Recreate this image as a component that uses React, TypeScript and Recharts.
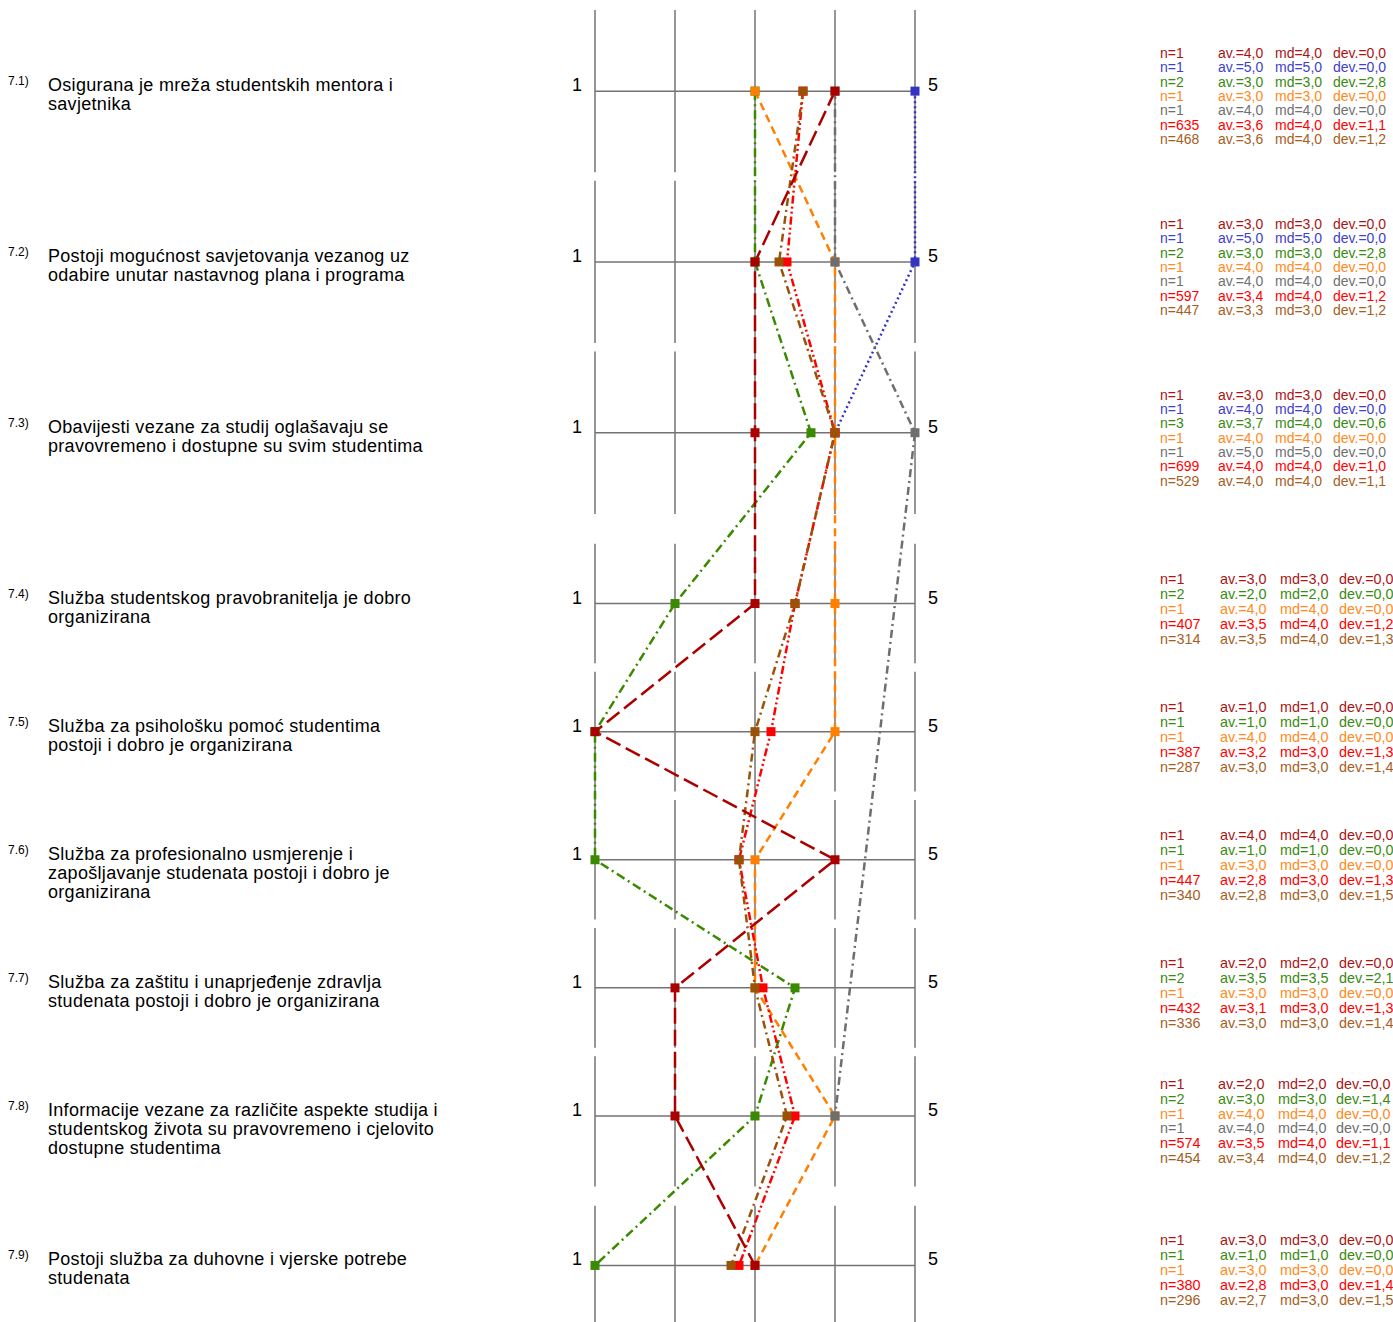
import React from "react";
import { LineChart, Line, XAxis, YAxis, ReferenceLine } from "recharts";

const questionNums = ["7.1)", "7.2)", "7.3)", "7.4)", "7.5)", "7.6)", "7.7)", "7.8)", "7.9)"];
const questions = [
  ["Osigurana je mreža studentskih mentora i", "savjetnika"],
  ["Postoji mogućnost savjetovanja vezanog uz", "odabire unutar nastavnog plana i programa"],
  ["Obavijesti vezane za studij oglašavaju se", "pravovremeno i dostupne su svim studentima"],
  ["Služba studentskog pravobranitelja je dobro", "organizirana"],
  ["Služba za psihološku pomoć studentima", "postoji i dobro je organizirana"],
  ["Služba za profesionalno usmjerenje i", "zapošljavanje studenata postoji i dobro je", "organizirana"],
  ["Služba za zaštitu i unaprjeđenje zdravlja", "studenata postoji i dobro je organizirana"],
  ["Informacije vezane za različite aspekte studija i", "studentskog života su pravovremeno i cjelovito", "dostupne studentima"],
  ["Postoji služba za duhovne i vjerske potrebe", "studenata"],
];

// n per group
const nDarkRed = [1, 1, 1, 1, 1, 1, 1, 1, 1];
const nBlue = [1, 1, 1, null, null, null, null, null, null];
const nGreen = [2, 2, 3, 2, 1, 1, 2, 2, 1];
const nOrange = [1, 1, 1, 1, 1, 1, 1, 1, 1];
const nGray = [1, 1, 1, null, null, null, null, 1, null];
const nRed = [635, 597, 699, 407, 387, 447, 432, 574, 380];
const nBrown = [468, 447, 529, 314, 287, 340, 336, 454, 296];

// averages (plotted)
const avDarkRed = [4.0, 3.0, 3.0, 3.0, 1.0, 4.0, 2.0, 2.0, 3.0];
const avBlue = [5.0, 5.0, 4.0, null, null, null, null, null, null];
const avGreen = [3.0, 3.0, 3.7, 2.0, 1.0, 1.0, 3.5, 3.0, 1.0];
const avOrange = [3.0, 4.0, 4.0, 4.0, 4.0, 3.0, 3.0, 4.0, 3.0];
const avGray = [4.0, 4.0, 5.0, null, null, null, null, 4.0, null];
const avRed = [3.6, 3.4, 4.0, 3.5, 3.2, 2.8, 3.1, 3.5, 2.8];
const avBrown = [3.6, 3.3, 4.0, 3.5, 3.0, 2.8, 3.0, 3.4, 2.7];

// medians
const mdDarkRed = [4.0, 3.0, 3.0, 3.0, 1.0, 4.0, 2.0, 2.0, 3.0];
const mdBlue = [5.0, 5.0, 4.0, null, null, null, null, null, null];
const mdGreen = [3.0, 3.0, 4.0, 2.0, 1.0, 1.0, 3.5, 3.0, 1.0];
const mdOrange = [3.0, 4.0, 4.0, 4.0, 4.0, 3.0, 3.0, 4.0, 3.0];
const mdGray = [4.0, 4.0, 5.0, null, null, null, null, 4.0, null];
const mdRed = [4.0, 4.0, 4.0, 4.0, 3.0, 3.0, 3.0, 4.0, 3.0];
const mdBrown = [4.0, 3.0, 4.0, 4.0, 3.0, 3.0, 3.0, 4.0, 3.0];

// deviations
const devDarkRed = [0, 0, 0, 0, 0, 0, 0, 0, 0];
const devBlue = [0, 0, 0, null, null, null, null, null, null];
const devGreen = [2.8, 2.8, 0.6, 0, 0, 0, 2.1, 1.4, 0];
const devOrange = [0, 0, 0, 0, 0, 0, 0, 0, 0];
const devGray = [0, 0, 0, null, null, null, null, 0, null];
const devRed = [1.1, 1.2, 1.0, 1.2, 1.3, 1.3, 1.3, 1.1, 1.4];
const devBrown = [1.2, 1.2, 1.1, 1.3, 1.4, 1.5, 1.4, 1.2, 1.5];

// legend order
const series = [
  { key: "darkRed", color: "#aa0000", text: "#aa1414", dash: "16 6", n: nDarkRed, av: avDarkRed, md: mdDarkRed, dev: devDarkRed },
  { key: "blue", color: "#3434c4", text: "#4040cc", dash: "2 3", n: nBlue, av: avBlue, md: mdBlue, dev: devBlue },
  { key: "green", color: "#3a8a00", text: "#3a8a10", dash: "9 4 2 4", n: nGreen, av: avGreen, md: mdGreen, dev: devGreen },
  { key: "orange", color: "#ff7f00", text: "#ff8a20", dash: "8 5", n: nOrange, av: avOrange, md: mdOrange, dev: devOrange },
  { key: "gray", color: "#6e6e6e", text: "#707070", dash: "8 4 2 4", n: nGray, av: avGray, md: mdGray, dev: devGray },
  { key: "red", color: "#ff0000", text: "#ff0000", dash: "8 3 2 3 2 3", n: nRed, av: avRed, md: mdRed, dev: devRed },
  { key: "brown", color: "#9a5208", text: "#a5601e", dash: "8 4 2 4", n: nBrown, av: avBrown, md: mdBrown, dev: devBrown },
];
const drawOrder = ["blue", "green", "orange", "gray", "red", "brown", "darkRed"];

// row spacing follows the number of groups listed for each question
const counts = questions.map((_, i) => series.filter((s) => s.n[i] != null).length);
const positions: number[] = [];
counts.forEach((c, i) => positions.push(i === 0 ? 0 : positions[i - 1] + counts[i - 1] + 1));

const rows = positions.map((pos, i) => {
  const r: any = { pos };
  series.forEach((s) => (r[s.key] = s.av[i]));
  return r;
});

const fmt = (v: number) => v.toFixed(1).replace(".", ",");
const FONT = "'Liberation Sans', Arial, sans-serif";

const colX: Record<number, number[]> = {
  7: [1160, 1218, 1275, 1333],
  6: [1160, 1218, 1278, 1336],
  5: [1160, 1220, 1280, 1339],
};
const lineGap: Record<number, number> = { 7: 14.33, 6: 14.8, 5: 15 };

function RowTick(props: any) {
  const { y, payload } = props;
  const i = positions.indexOf(payload.value);
  if (i < 0) return <g />;
  const c = counts[i];
  const xs = colX[c] || colX[5];
  const gap = lineGap[c] || 15;
  const first = y + 10 - ((c - 1) * gap) / 2;
  const present = series.filter((s) => s.n[i] != null);
  const fs = c >= 7 ? 14 : 14.4;
  return (
    <g fontFamily={FONT}>
      <text x={8} y={y - 6} fontSize={12} fill="#000">{questionNums[i]}</text>
      {questions[i].map((line, k) => (
        <text key={k} x={48} y={y + k * 19} fontSize={18} letterSpacing={0.3} fill="#000">{line}</text>
      ))}
      <text x={572} y={y} fontSize={18} fill="#000">1</text>
      <text x={928} y={y} fontSize={18} fill="#000">5</text>
      {present.map((s, k) => (
        <g key={s.key} fill={s.text} fontSize={fs}>
          <text x={xs[0]} y={first + k * gap}>{`n=${s.n[i]}`}</text>
          <text x={xs[1]} y={first + k * gap}>{`av.=${fmt(s.av[i] as number)}`}</text>
          <text x={xs[2]} y={first + k * gap}>{`md=${fmt(s.md[i] as number)}`}</text>
          <text x={xs[3]} y={first + k * gap}>{`dev.=${fmt(s.dev[i] as number)}`}</text>
        </g>
      ))}
    </g>
  );
}

const square = (color: string) => (p: any) => {
  const { cx, cy, index } = p;
  if (cx == null || cy == null || p.value == null) return <g key={`e${index}`} />;
  return <rect key={`d${index}`} x={cx - 4.5} y={cy - 4.5} width={9} height={9} fill={color} />;
};

const Y_MIN = -3.8;
const Y_MAX = 57.65;
const scaleValues = [1, 2, 3, 4, 5];
const GRID = "#737373";

export default function App() {
  return (
    <div style={{ position: "absolute", left: 0, top: 0, width: 1393, height: 1322, overflow: "hidden", background: "#fff" }}>
      <LineChart
        layout="vertical"
        width={1393}
        height={1322}
        data={rows}
        margin={{ top: 10, right: 478, bottom: 0, left: 594 }}
      >
        <XAxis type="number" domain={[1, 5]} hide />
        <YAxis
          type="number"
          dataKey="pos"
          domain={[Y_MIN, Y_MAX]}
          ticks={positions}
          interval={0}
          width={1}
          axisLine={false}
          tickLine={false}
          allowDataOverflow
          tick={(p: any) => <RowTick {...p} />}
        />
        {positions.map((pos, i) => {
          const up = (Math.min(counts[i], i > 0 ? counts[i - 1] : counts[i]) + 0.6) / 2;
          const down = (counts[i] + 0.6) / 2;
          return scaleValues.map((v) => (
            <ReferenceLine
              key={`${i}-${v}`}
              segment={[{ x: v, y: pos - up }, { x: v, y: pos + down }]}
              stroke={GRID}
              strokeWidth={1.5}
              ifOverflow="visible"
            />
          ));
        })}
        {positions.map((pos) => (
          <ReferenceLine key={`h${pos}`} y={pos} stroke={GRID} strokeWidth={1.5} />
        ))}
        {drawOrder.map((k) => {
          const s = series.find((x) => x.key === k)!;
          return (
            <Line
              key={k}
              type="linear"
              dataKey={k}
              stroke={s.color}
              strokeWidth={2.5}
              strokeDasharray={s.dash}
              dot={square(s.color)}
              activeDot={false}
              connectNulls
              isAnimationActive={false}
            />
          );
        })}
      </LineChart>
    </div>
  );
}
